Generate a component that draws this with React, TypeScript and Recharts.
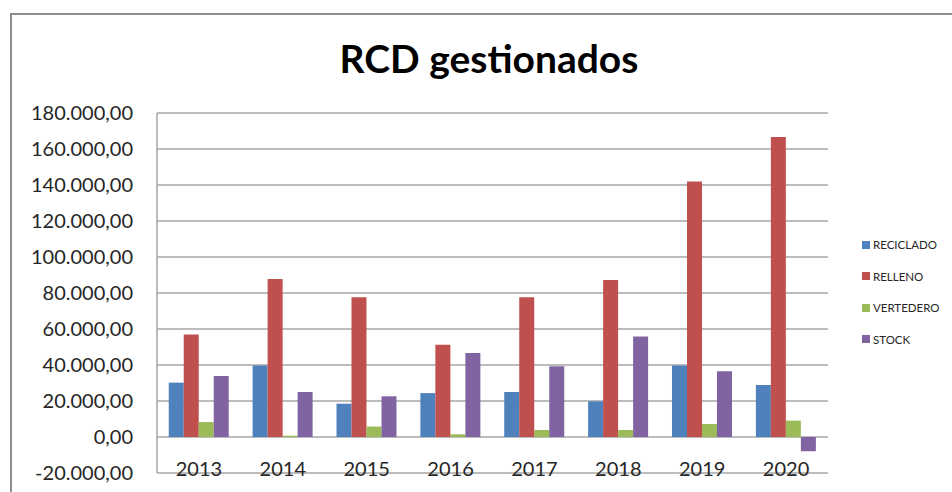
import { BarChart, Bar, XAxis, YAxis, CartesianGrid } from "recharts";

const years = ["2013", "2014", "2015", "2016", "2017", "2018", "2019", "2020"];
const reciclado = [30200, 39700, 18500, 24400, 25000, 19800, 39700, 28900];
const relleno = [57000, 87800, 77600, 51300, 77600, 87200, 141900, 166700];
const vertedero = [8300, 700, 5800, 1500, 3900, 3900, 7200, 9100];
const stock = [33900, 25000, 22600, 46700, 39300, 55800, 36500, -7900];
const yTicks = [-20000, 0, 20000, 40000, 60000, 80000, 100000, 120000, 140000, 160000, 180000];

const series = [
  { key: "RECICLADO", color: "#4F81BD" },
  { key: "RELLENO", color: "#C0504D" },
  { key: "VERTEDERO", color: "#9BBB59" },
  { key: "STOCK", color: "#8064A2" },
];

const data = years.map((year, i) => ({
  year,
  RECICLADO: reciclado[i],
  RELLENO: relleno[i],
  VERTEDERO: vertedero[i],
  STOCK: stock[i],
}));

// 180000 -> "180.000,00"
function fmt(v: number) {
  const sign = v < 0 ? "-" : "";
  const int = Math.abs(Math.round(v)).toString().replace(/\B(?=(\d{3})+(?!\d))/g, ".");
  return sign + int + ",00";
}

const FONT = "Lato, 'Open Sans', sans-serif";

function YearTick(props: any) {
  const { x, y, payload } = props;
  return (
    <text x={x} y={y - 5} textAnchor="middle" fill="#262626" fontSize={20} fontFamily={FONT}>
      {payload.value}
    </text>
  );
}

function LegendBox() {
  return (
    <div style={{ fontFamily: FONT, fontSize: 11.5, color: "#262626" }}>
      {series.map((s) => (
        <div key={s.key} style={{ display: "flex", alignItems: "center", height: 31.5 }}>
          <span style={{ width: 8, height: 8, background: s.color, marginRight: 3, display: "inline-block" }} />
          {s.key}
        </div>
      ))}
    </div>
  );
}

export default function App() {
  return (
    <div style={{ position: "absolute", left: 0, top: 0, width: 952, height: 492, overflow: "hidden", background: "#fff" }}>
      <div
        style={{
          position: "absolute",
          left: 10,
          top: 13,
          width: 1000,
          height: 600,
          borderLeft: "2px solid #8e8e8e",
          borderTop: "2px solid #8e8e8e",
        }}
      />
      <div
        style={{
          position: "absolute",
          left: 0,
          width: 978,
          top: 36,
          textAlign: "center",
          fontFamily: FONT,
          fontWeight: 700,
          fontSize: 39,
          lineHeight: "44px",
          color: "#000",
        }}
      >
        RCD gestionados
      </div>
      <div style={{ position: "absolute", left: 0, top: 0 }}>
        <BarChart
          width={952}
          height={492}
          data={data}
          margin={{ top: 113, right: 124, bottom: 0, left: 0 }}
          barCategoryGap="14%"
          barGap={0}
        >
          <CartesianGrid vertical={false} stroke="#a6a6a6" strokeWidth={1.5} />
          <XAxis dataKey="year" height={19} axisLine={false} tickLine={false} tick={<YearTick />} interval={0} />
          <YAxis
            width={157}
            domain={[-20000, 180000]}
            ticks={yTicks}
            interval={0}
            tickFormatter={fmt}
            axisLine={{ stroke: "#a6a6a6", strokeWidth: 1.5 }}
            tickLine={false}
            tickSize={0}
            tickMargin={24}
            tick={{ fill: "#262626", fontSize: 20, fontFamily: FONT }}
          />
          {series.map((s) => (
            <Bar key={s.key} dataKey={s.key} fill={s.color} isAnimationActive={false} />
          ))}
        </BarChart>
      </div>
      <div style={{ position: "absolute", left: 862, top: 229 }}>
        <LegendBox />
      </div>
    </div>
  );
}
